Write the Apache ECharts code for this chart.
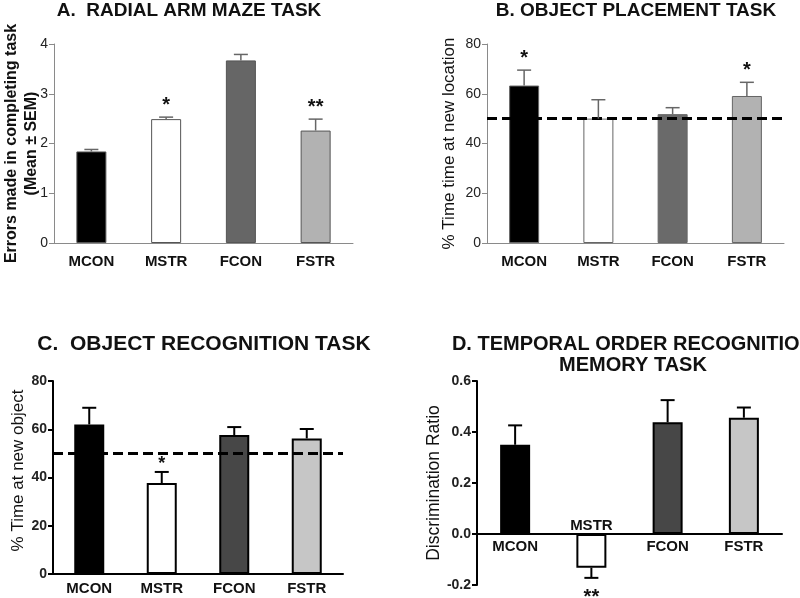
<!DOCTYPE html>
<html><head><meta charset="utf-8">
<script src="https://cdn.jsdelivr.net/npm/echarts@6/dist/echarts.min.js"></script>
<style>html,body{margin:0;padding:0;background:#fff}#c{width:800px;height:598px}</style>
</head><body><div id="c"></div>
<script>
const categories = ['MCON', 'MSTR', 'FCON', 'FSTR'];

// Panel A: Radial arm maze (errors)
const radialMean = [1.84, 2.49, 3.67, 2.26];
const radialSem = [0.04, 0.04, 0.12, 0.23];
const radialStars = ['', '*', '', '**'];
const radialTicks = [0, 1, 2, 3, 4];

// Panel B: Object placement (% time at new location)
const placementMean = [63.3, 50.0, 51.8, 59.1];
const placementSem = [6.2, 7.6, 2.6, 5.5];
const placementStars = ['*', '', '', '*'];
const placementTicks = [0, 20, 40, 60, 80];

// Panel C: Object recognition (% time at new object)
const recognitionMean = [62.0, 37.7, 57.6, 56.2];
const recognitionSem = [6.9, 4.6, 3.3, 3.9];
const recognitionStars = ['', '*', '', ''];
const recognitionTicks = [0, 20, 40, 60, 80];

// Panel D: Temporal order (discrimination ratio)
const temporalMean = [0.35, -0.132, 0.438, 0.456];
const temporalSem = [0.076, 0.04, 0.087, 0.04];
const temporalStars = ['', '**', '', ''];
const temporalTicks = [-0.2, 0.0, 0.2, 0.4, 0.6];

const chanceLevel = 50;

const FONT = 'Arial, "Liberation Sans", sans-serif';
const chart = echarts.init(document.getElementById('c'));

const panels = [
  { grid: {left: 54, top: 44, width: 299, height: 199}, mean: radialMean, sem: radialSem, stars: radialStars, ticks: radialTicks,
    colors: ['#000000', '#ffffff', '#666666', '#b2b2b2'], border: '#555', borderW: 1, axisColor: '#8a8a8a', axisW: 1,
    errColor: '#666', errW: 1.5, tickFont: {fontSize: 14, fontWeight: 'normal'}, catMargin: 11, catFont: 15,
    yName: 'Errors made in completing task\n(Mean ± SEM)', yNameGap: 12, yNameStyle: {fontWeight: 'bold', fontSize: 16, lineHeight: 20},
    starSize: 20, starOff: 12, dec: 0, dashed: false },
  { grid: {left: 487, top: 44, width: 297, height: 199}, mean: placementMean, sem: placementSem, stars: placementStars, ticks: placementTicks,
    colors: ['#000000', '#ffffff', '#6a6a6a', '#b2b2b2'], border: '#666', borderW: 1, axisColor: '#8a8a8a', axisW: 1,
    errColor: '#666', errW: 1.5, tickFont: {fontSize: 14, fontWeight: 'normal'}, catMargin: 11, catFont: 15,
    yName: '% Time time at new location', yNameGap: 29, yNameStyle: {fontWeight: 'normal', fontSize: 17},
    starSize: 20, starOff: 12, dec: 0, dashed: true },
  { grid: {left: 53, top: 381, width: 290, height: 193}, mean: recognitionMean, sem: recognitionSem, stars: recognitionStars, ticks: recognitionTicks,
    colors: ['#000000', '#ffffff', '#474747', '#c6c6c6'], border: '#000', borderW: 2, axisColor: '#000', axisW: 2,
    errColor: '#000', errW: 2, tickFont: {fontSize: 14, fontWeight: 'bold'}, catMargin: 7, catFont: 15,
    yName: '% Time at new object', yNameGap: 26, yNameStyle: {fontWeight: 'normal', fontSize: 17, padding: [0, 0, 0, 14]},
    starSize: 18, starOff: 8, dec: 0, dashed: true },
  { grid: {left: 477, top: 381, width: 305, height: 204}, mean: temporalMean, sem: temporalSem, stars: temporalStars, ticks: temporalTicks,
    colors: ['#000000', '#ffffff', '#474747', '#c6c6c6'], border: '#000', borderW: 2, axisColor: '#000', axisW: 2,
    errColor: '#000', errW: 2, tickFont: {fontSize: 14, fontWeight: 'bold'}, catMargin: 7, catFont: 15,
    yName: 'Discrimination Ratio', yNameGap: 34, yNameStyle: {fontWeight: 'normal', fontSize: 17.5},
    starSize: 20, starOff: 14, dec: 1, dashed: false, labelsAtZero: true }
];

const grid = [], xAxis = [], yAxis = [], series = [];
panels.forEach((p, k) => {
  grid.push(Object.assign({outerBoundsMode: 'none', containLabel: false}, p.grid));
  const tmin = p.ticks[0], tmax = p.ticks[p.ticks.length - 1];
  xAxis.push({
    type: 'category', gridIndex: k, data: categories,
    axisLine: {onZero: true, lineStyle: {color: p.axisColor, width: p.axisW}},
    axisTick: {show: false},
    axisLabel: {show: !p.labelsAtZero, margin: p.catMargin, fontFamily: FONT, fontWeight: 'bold', fontSize: p.catFont, color: '#111'}
  });
  yAxis.push({
    type: 'value', gridIndex: k, min: tmin, max: tmax, interval: p.ticks[1] - p.ticks[0],
    splitLine: {show: false},
    axisLine: {show: true, onZero: false, lineStyle: {color: p.axisColor, width: p.axisW}},
    axisTick: {show: true, inside: false, length: 5, lineStyle: {color: p.axisColor, width: p.axisW}},
    axisLabel: {margin: 6, fontFamily: FONT, color: '#222', fontSize: p.tickFont.fontSize, fontWeight: p.tickFont.fontWeight,
      formatter: v => Number(v).toFixed(p.dec)},
    name: p.yName, nameLocation: 'middle', nameRotate: 90, nameGap: p.yNameGap, nameMoveOverlap: false,
    nameTextStyle: Object.assign({fontFamily: FONT, color: '#111'}, p.yNameStyle)
  });
  series.push({
    type: 'bar', xAxisIndex: k, yAxisIndex: k, barWidth: 30, silent: true,
    data: p.mean.map((m, i) => ({value: m, itemStyle: {color: p.colors[i], borderColor: p.border, borderWidth: p.borderW}})),
    markLine: p.dashed ? {silent: true, symbol: ['none', 'none'], label: {show: false},
      lineStyle: {color: '#000', width: 3, type: [10, 5]}, data: [{yAxis: chanceLevel}]} : undefined
  });
  series.push({
    type: 'custom', xAxisIndex: k, yAxisIndex: k, silent: true, clip: false, z: 5,
    data: p.mean.map((m, i) => [i, m, p.sem[i]]),
    renderItem: (params, api) => {
      const i = params.dataIndex;
      const m = p.mean[i], s = p.sem[i];
      const end = m >= 0 ? m + s : m - s;
      const p0 = api.coord([i, m]);
      const p1 = api.coord([i, end]);
      const st = {stroke: p.errColor, lineWidth: p.errW};
      const children = [
        {type: 'line', shape: {x1: p0[0], y1: p0[1], x2: p1[0], y2: p1[1]}, style: st},
        {type: 'line', shape: {x1: p1[0] - 7, y1: p1[1], x2: p1[0] + 7, y2: p1[1]}, style: st}
      ];
      if (p.stars[i]) {
        children.push({type: 'text', style: {text: p.stars[i], x: p1[0], y: m >= 0 ? p1[1] - p.starOff : p1[1] + p.starOff + 6,
          align: 'center', verticalAlign: 'middle', font: 'bold ' + p.starSize + 'px ' + FONT, fill: '#111'}});
      }
      if (p.labelsAtZero) {
        const z0 = api.coord([i, 0]);
        children.push({type: 'text', style: {text: categories[i], x: z0[0], y: m < 0 ? z0[1] - 8 : z0[1] + 13,
          align: 'center', verticalAlign: 'middle', font: 'bold ' + p.catFont + 'px ' + FONT, fill: '#111'}});
      }
      return {type: 'group', children};
    }
  });
});

const titleStyle = (size, lh) => ({fontFamily: FONT, fontWeight: 'bold', fontSize: size, color: '#111', lineHeight: lh || Math.round(size * 1.2)});
chart.setOption({
  animation: false,
  title: [
    {text: 'A.  RADIAL ARM MAZE TASK', left: 184, top: -6, textAlign: 'center', textStyle: titleStyle(19)},
    {text: 'B. OBJECT PLACEMENT TASK', left: 631, top: -6, textAlign: 'center', textStyle: titleStyle(19)},
    {text: 'C.  OBJECT RECOGNITION TASK', left: 199, top: 327, textAlign: 'center', textStyle: titleStyle(21)},
    {text: 'D. TEMPORAL ORDER RECOGNITION\nMEMORY TASK', left: 628, top: 329, textAlign: 'center', textStyle: titleStyle(20, 21)}
  ],
  grid, xAxis, yAxis, series
});
</script></body></html>
